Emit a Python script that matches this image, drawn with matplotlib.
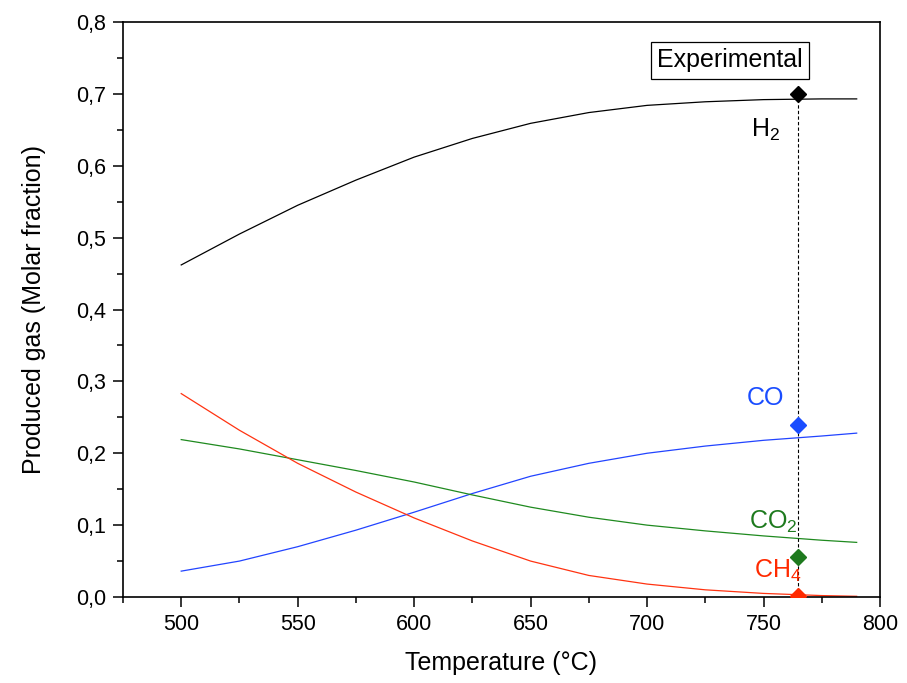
import matplotlib
matplotlib.use("Agg")
import matplotlib.pyplot as plt
from matplotlib.ticker import MultipleLocator, FuncFormatter

plt.rcParams['font.family'] = ['Liberation Sans', 'DejaVu Sans']
plt.rcParams['mathtext.fontset'] = 'custom'
plt.rcParams['mathtext.rm'] = 'Liberation Sans'
plt.rcParams['mathtext.it'] = 'Liberation Sans:italic'
plt.rcParams['mathtext.bf'] = 'Liberation Sans:bold'

temp = [500, 525, 550, 575, 600, 625, 650, 675, 700, 725, 750, 775, 790]
h2 = [0.462, 0.505, 0.545, 0.580, 0.612, 0.638, 0.659, 0.674, 0.684, 0.689, 0.692, 0.693, 0.693]
co = [0.036, 0.050, 0.070, 0.093, 0.118, 0.144, 0.168, 0.186, 0.200, 0.210, 0.218, 0.224, 0.228]
co2 = [0.219, 0.206, 0.191, 0.176, 0.160, 0.142, 0.125, 0.111, 0.100, 0.092, 0.085, 0.079, 0.076]
ch4 = [0.283, 0.232, 0.186, 0.146, 0.110, 0.078, 0.050, 0.030, 0.018, 0.010, 0.005, 0.002, 0.001]

exp_temp = 765
exp_vals = [0.700, 0.240, 0.055, 0.001]
exp_colors = ['black', '#1a4dff', '#1e7a1e', '#ff2a00']

fig = plt.figure(figsize=(9.07, 6.83), dpi=100)
ax = fig.add_axes([0.1356, 0.1259, 0.8346, 0.8419])

ax.plot(temp, h2, color='black', lw=0.9)
ax.plot(temp, co, color='#2244ff', lw=0.9)
ax.plot(temp, co2, color='#1f8a1f', lw=0.9)
ax.plot(temp, ch4, color='#ff3311', lw=0.9)

ax.plot([exp_temp, exp_temp], [0, exp_vals[0]], color='black', lw=0.8, ls=(0, (3, 2)))
for v, c in zip(exp_vals, exp_colors):
    ax.plot(exp_temp, v, marker='D', ms=8, color=c, ls='none', zorder=5)

ax.text(751, 0.65, 'H$_2$', fontsize=18, color='black', ha='center', va='center')
ax.text(751, 0.277, 'CO', fontsize=18, color='#1a4dff', ha='center', va='center')
ax.text(754, 0.105, 'CO$_2$', fontsize=18, color='#1e7a1e', ha='center', va='center')
ax.text(756, 0.036, 'CH$_4$', fontsize=18, color='#ff2a00', ha='center', va='center')
ax.text(735.5, 0.7466, 'Experimental', fontsize=18, ha='center', va='center',
        bbox=dict(boxstyle='square,pad=0.25', fc='white', ec='black', lw=0.9))

ax.set_xlim(475, 800)
ax.set_ylim(0, 0.8)
ax.xaxis.set_major_locator(MultipleLocator(50))
ax.xaxis.set_minor_locator(MultipleLocator(25))
ax.yaxis.set_major_locator(MultipleLocator(0.1))
ax.yaxis.set_minor_locator(MultipleLocator(0.05))
ax.yaxis.set_major_formatter(FuncFormatter(lambda v, p: f'{v:.1f}'.replace('.', ',')))
ax.tick_params(which='both', direction='out', labelsize=15.5, width=1.1, pad=5)
ax.tick_params(which='major', length=7)
ax.tick_params(which='minor', length=4)
for s in ax.spines.values():
    s.set_linewidth(1.2)

ax.set_xlabel('Temperature (°C)', fontsize=18, labelpad=12)
ax.set_ylabel('Produced gas (Molar fraction)', fontsize=18, labelpad=22)

fig.savefig('out.png', dpi=100)
